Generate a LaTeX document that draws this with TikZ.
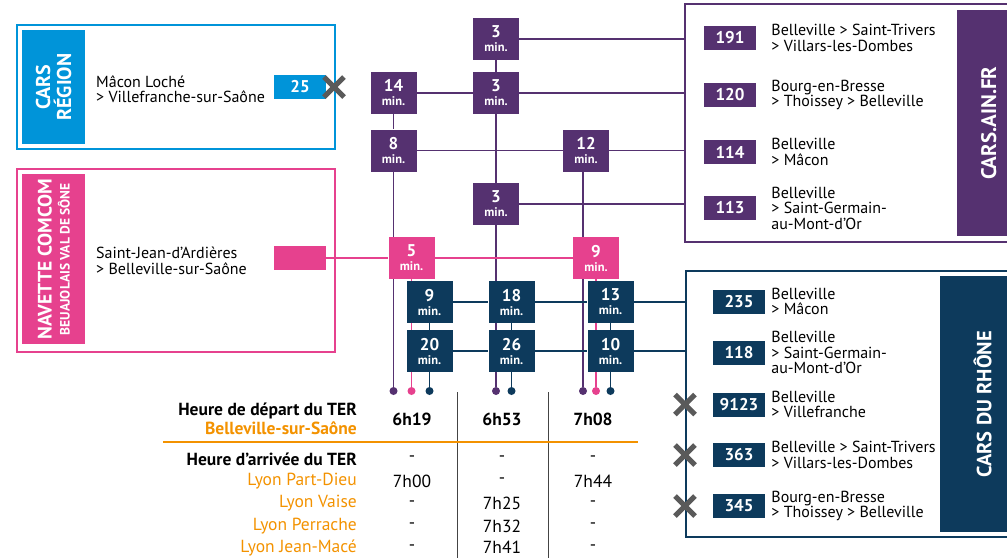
\documentclass[tikz,border=0pt]{standalone}
\usepackage{fontspec}
\setmainfont{PT Sans}
\usetikzlibrary{positioning,backgrounds,shapes.misc}

\definecolor{region}{HTML}{0094D9}
\definecolor{comcom}{HTML}{E6418E}
\definecolor{ain}{HTML}{553170}
\definecolor{rhone}{HTML}{0D3A5C}
\definecolor{ter}{HTML}{F39200}
\definecolor{croix}{HTML}{5A5A5A}
\definecolor{sep}{HTML}{444444}

\newcommand{\fs}[1]{\fontsize{#1}{#1}\selectfont}
\newcommand{\duree}[1]{{\fs{17}#1}\\min.}

\begin{document}
\begin{tikzpicture}[x=1pt,y=-1pt,
    cadre/.style={draw=#1, line width=1.8pt, anchor=north west, inner sep=0pt},
    bande/.style={fill=#1, anchor=north west, inner sep=0pt},
    titre/.style={text=white, rotate=90, align=center, inner sep=0pt},
    duree/.style={fill=#1, text=white, align=center, inner sep=0pt,
      minimum width=46pt, minimum height=42pt, font=\bfseries\fontsize{12.5}{14}\selectfont},
    ligne/.style={fill=#1, text=white, inner sep=0pt, minimum width=52pt,
      minimum height=24pt, font=\bfseries\fs{17}},
    trajet/.style={anchor=west, align=left, inner sep=0pt, font=\fontsize{16}{15.5}\selectfont},
    barre/.style={cross out, draw=croix, line width=5pt, minimum size=15pt, inner sep=0pt},
    arret/.style={circle, fill=#1, minimum size=8pt, inner sep=0pt},
    lien/.style={draw=#1, line width=1.8pt},
    tab/.style={inner sep=0pt, font=\fs{17.5}}
  ]
  \useasboundingbox (0,0) rectangle (1007,558);

  % cadres des reseaux
  \node[cadre=region, minimum width=318pt, minimum height=124pt] (region) at (16,24) {};
  \node[bande=region, minimum width=63pt, minimum height=114pt] (bregion) at (22,30) {};
  \node[titre, font=\bfseries\fontsize{20}{21}\selectfont] (tregion) at (bregion) {CARS\\RÉGION};

  \node[cadre=comcom, minimum width=318pt, minimum height=183pt] (navette) at (16,168) {};
  \node[bande=comcom, minimum width=63pt, minimum height=170pt] (bnavette) at (22,174) {};
  \node[titre, font=\bfseries\fontsize{19.5}{18}\selectfont] (tnavette) at (bnavette)
    {NAVETTE COMCOM\\{\fs{13.5}BEUAJOLAIS VAL DE SÔNE}};

  \node[cadre=ain, minimum width=340pt, minimum height=238pt] (ain) at (684,3) {};
  \node[bande=ain, minimum width=63pt, minimum height=226pt] (bain) at (957,10) {};
  \node[titre, font=\bfseries\fs{21}] (tain) at (bain) {CARS.AIN.FR};

  \node[cadre=rhone, minimum width=340pt, minimum height=266pt] (rhone) at (685,270) {};
  \node[bande=rhone, minimum width=85pt, minimum height=256pt] (brhone) at (940,276) {};
  \node[titre, font=\bfseries\fs{20.5}] (trhone) at (brhone) {CARS DU RHÔNE};

  % lignes de gauche
  \node[ligne=region] (l25) at (300,87) {25};
  \node[trajet] (t25) at (96,89) {Mâcon Loché\\> Villefranche-sur-Saône};
  \node[barre] (x25) at (334,87) {};
  \node[ligne=comcom] (lnav) at (300,258) {};
  \node[trajet] (tnav) at (96,261) {Saint-Jean-d’Ardières\\> Belleville-sur-Saône};

  % lignes cars.ain.fr
  \node[ligne=ain] (l191) at (730,38) {191};
  \node[trajet, right=15pt of l191] (t191) {Belleville > Saint-Trivers\\> Villars-les-Dombes};
  \node[ligne=ain] (l120) at (730,95) {120};
  \node[trajet, right=15pt of l120] (t120) {Bourg-en-Bresse\\> Thoissey > Belleville};
  \node[ligne=ain] (l114) at (730,152) {114};
  \node[trajet, right=15pt of l114] (t114) {Belleville\\> Mâcon};
  \node[ligne=ain] (l113) at (730,208) {113};
  \node[trajet, right=15pt of l113] (t113) {Belleville\\> Saint-Germain-\\au-Mont-d’Or};

  % lignes cars du rhone
  \node[ligne=rhone] (l235) at (739,301.5) {235};
  \node[trajet, right=6pt of l235] (t235) {Belleville\\> Mâcon};
  \node[ligne=rhone] (l118) at (739,352.5) {118};
  \node[trajet, right=6pt of l118] (t118) {Belleville\\> Saint-Germain-\\au-Mont-d’Or};
  \node[ligne=rhone] (l9123) at (739,404.5) {9123};
  \node[trajet, right=6pt of l9123] (t9123) {Belleville\\> Villefranche};
  \node[ligne=rhone] (l363) at (739,455) {363};
  \node[trajet, right=6pt of l363] (t363) {Belleville > Saint-Trivers\\> Villars-les-Dombes};
  \node[ligne=rhone] (l345) at (739,506) {345};
  \node[trajet, right=6pt of l345] (t345) {Bourg-en-Bresse\\> Thoissey > Belleville};
  \node[barre] (x9123) at (685,404.5) {};
  \node[barre] (x363) at (685,455) {};
  \node[barre] (x345) at (685,506) {};

  % temps de correspondance
  \node[duree=ain] (A) at (496,39) {\duree{3}};
  \node[duree=ain] (B) at (393.5,93) {\duree{14}};
  \node[duree=ain] (C) at (496,93) {\duree{3}};
  \node[duree=ain] (D) at (393.5,150.5) {\duree{8}};
  \node[duree=ain] (E) at (586,150.5) {\duree{12}};
  \node[duree=ain] (F) at (496,204) {\duree{3}};
  \node[duree=comcom] (P5) at (411.5,258) {\duree{5}};
  \node[duree=comcom] (P9) at (596,258) {\duree{9}};
  \node[duree=rhone] (N9) at (429.5,302) {\duree{9}};
  \node[duree=rhone] (N18) at (511.5,302) {\duree{18}};
  \node[duree=rhone] (N13) at (610.5,302) {\duree{13}};
  \node[duree=rhone] (N20) at (429.5,351) {\duree{20}};
  \node[duree=rhone] (N26) at (511.5,351) {\duree{26}};
  \node[duree=rhone] (N10) at (610.5,351) {\duree{10}};

  % arrivees en gare
  \coordinate (rang) at (0,391);
  \node[arret=ain] (dD) at (D |- rang) {};
  \node[arret=comcom] (dP5) at (P5 |- rang) {};
  \node[arret=rhone] (dN20) at (N20 |- rang) {};
  \node[arret=ain] (dF) at (F |- rang) {};
  \node[arret=rhone] (dN26) at (N26 |- rang) {};
  \node[arret=ain] (dE) at (583,391) {};
  \node[arret=comcom] (dP9) at (P9 |- rang) {};
  \node[arret=rhone] (dN10) at (N10 |- rang) {};

  \begin{scope}[on background layer]
    \draw[lien=ain] (A) -- (A -| ain.west);
    \draw[lien=ain] (A) -- (C);
    \draw[lien=ain] (B) -- (C) -- (C -| ain.west);
    \draw[lien=ain] (C) -- (F) -- (dF);
    \draw[lien=ain] (B) -- (D) -- (dD);
    \draw[lien=ain] (D) -- (E) -- (E -| ain.west);
    \draw[lien=ain] (F) -- (F -| ain.west);
    \draw[lien=ain] (dE |- E.south) -- (dE);
    \draw[lien=comcom] (lnav) -- (P5) -- (P9);
    \draw[lien=comcom] (P5) -- (dP5);
    \draw[lien=comcom] (P9) -- (dP9);
    \draw[lien=rhone] (N9) -- (N18) -- (N13) -- (N13 -| rhone.west);
    \draw[lien=rhone] (N20) -- (N26) -- (N10) -- (N10 -| rhone.west);
    \draw[lien=rhone] (N9) -- (N20) -- (dN20);
    \draw[lien=rhone] (N18) -- (N26) -- (dN26);
    \draw[lien=rhone] (N13) -- (N10) -- (dN10);
  \end{scope}

  % horaires TER
  \draw[sep, line width=1pt] (457,392) -- (457,558);
  \draw[sep, line width=1pt] (548,392) -- (548,558);
  \draw[ter, line width=1.8pt] (163,442) -- (638,442);

  \node[tab, anchor=east, font=\bfseries\fs{17.5}] (dep) at (357,411) {Heure de départ du TER};
  \node[tab, anchor=east, font=\bfseries\fs{17.5}, text=ter] (bss) at (357,428) {Belleville-sur-Saône};
  \node[tab, font=\bfseries\fs{17.5}] (h1) at (412,419) {6h19};
  \node[tab, font=\bfseries\fs{17.5}] (h2) at (502,419) {6h53};
  \node[tab, font=\bfseries\fs{17.5}] (h3) at (593,419) {7h08};

  \node[tab, anchor=east, font=\bfseries\fs{17.5}] (arr) at (357,459) {Heure d’arrivée du TER};
  \node[tab] (arr1) at (412,459) {-};
  \node[tab] (arr2) at (502,459) {-};
  \node[tab] (arr3) at (593,459) {-};

  \foreach \y/\gare/\a/\b/\c [count=\i] in {481/Lyon Part-Dieu/7h00/-/7h44,
      503.5/Lyon Vaise/-/7h25/-, 526/Lyon Perrache/-/7h32/-, 547.5/Lyon Jean-Macé/-/7h41/-}{
    \node[tab, anchor=east, text=ter] (g\i) at (357,\y) {\gare};
    \node[tab] (g\i a) at (412,\y) {\a};
    \node[tab] (g\i b) at (502,\y) {\b};
    \node[tab] (g\i c) at (593,\y) {\c};
  }
\end{tikzpicture}
\end{document}
